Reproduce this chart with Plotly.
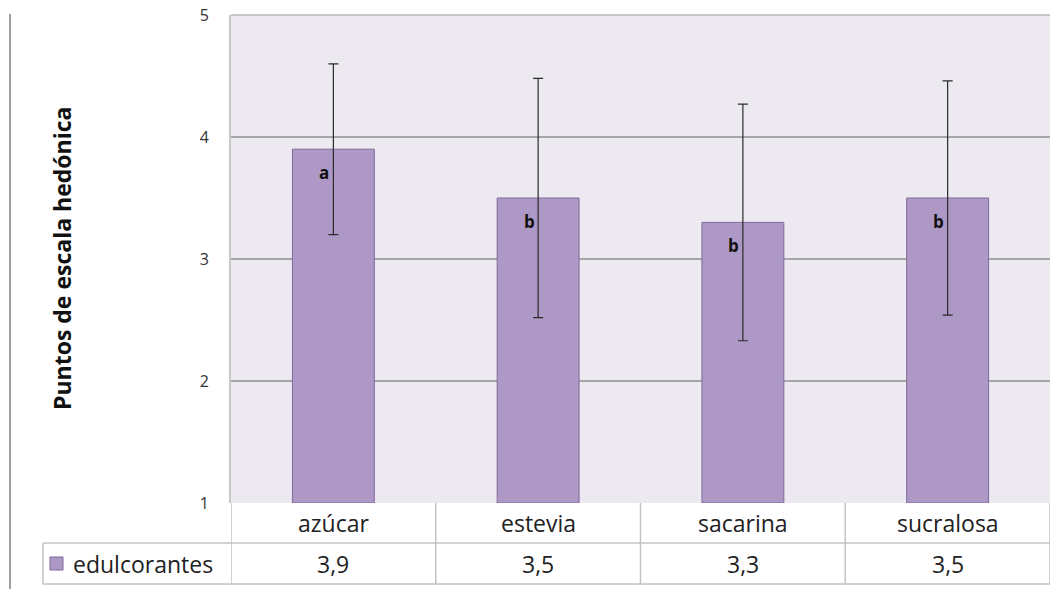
import plotly.graph_objects as go

categories = ["azúcar", "estevia", "sacarina", "sucralosa"]
means = [3.9, 3.5, 3.3, 3.5]
errors = [0.7, 0.98, 0.97, 0.96]
letters = ["a", "b", "b", "b"]
value_labels = ["3,9", "3,5", "3,3", "3,5"]
series_name = "edulcorantes"
y_title = "Puntos de escala hedónica"
y_ticks = [1, 2, 3, 4, 5]

BAR = "#AE98C6"
BAR_LINE = "#7F6A9C"
GRID = "#A6A6A6"
TABLE = "#C3C3C3"
FONT = "Open Sans"

W, H = 1062, 589
L, R, T, B = 231, 12, 15, 86
ph = H - T - B          # plot height px
pw = W - L - R          # plot width px

def py(p):   # pixel y -> paper y
    return (H - B - p) / ph

def px(p):   # pixel x -> paper x
    return (p - L) / pw

xs = list(range(len(categories)))

fig = go.Figure()
fig.add_trace(go.Bar(
    x=xs, y=[m - 1 for m in means], base=1,
    width=0.4,
    marker=dict(color=BAR, line=dict(color=BAR_LINE, width=1)),
    error_y=dict(type="data", array=errors, color="#2a2a2a", thickness=1.2, width=5),
    showlegend=False, hoverinfo="skip",
))

shapes = []
annotations = []

# letter annotations inside bars
for i, (m, lt) in enumerate(zip(means, letters)):
    annotations.append(dict(x=i, y=m, xref="x", yref="y", text=f"<b>{lt}</b>",
                            showarrow=False, xshift=-9, yshift=-23,
                            font=dict(family=FONT, size=17, color="#111111")))

# table: row 1 (categories) and row 2 (values)
row1_top, row1_bot, row2_bot = py(503), py(543), py(584)
for i, c in enumerate(categories):
    annotations.append(dict(x=i, y=(row1_top + row1_bot) / 2, xref="x", yref="paper",
                            text=c, showarrow=False, yanchor="middle",
                            font=dict(family=FONT, size=23, color="#222222")))
    annotations.append(dict(x=i, y=(row1_bot + row2_bot) / 2, xref="x", yref="paper",
                            text=value_labels[i], showarrow=False, yanchor="middle",
                            font=dict(family=FONT, size=23, color="#222222")))
# horizontal lines
shapes.append(dict(type="line", xref="paper", yref="paper", x0=px(43), x1=1, y0=row1_bot, y1=row1_bot,
                   line=dict(color=TABLE, width=1.5)))
shapes.append(dict(type="line", xref="paper", yref="paper", x0=px(43), x1=1, y0=row2_bot, y1=row2_bot,
                   line=dict(color=TABLE, width=1.5)))
# vertical lines
for k in range(len(categories) + 1):
    shapes.append(dict(type="line", xref="x", yref="paper", x0=k - 0.5, x1=k - 0.5,
                       y0=row1_top, y1=row2_bot, line=dict(color=TABLE, width=1.5)))
shapes.append(dict(type="line", xref="paper", yref="paper", x0=px(43), x1=px(43),
                   y0=row1_bot, y1=row2_bot, line=dict(color=TABLE, width=1.5)))
# legend key
shapes.append(dict(type="rect", xref="paper", yref="paper", x0=px(50), x1=px(63),
                   y0=py(570), y1=py(557), fillcolor=BAR, line=dict(color=BAR_LINE, width=1)))
annotations.append(dict(x=px(71), y=(row1_bot + row2_bot) / 2, xref="paper", yref="paper",
                        text=series_name, showarrow=False, xanchor="left", yanchor="middle",
                        font=dict(family=FONT, size=23, color="#222222")))
# outer left border line
shapes.append(dict(type="line", xref="paper", yref="paper", x0=px(10), x1=px(10),
                   y0=py(14), y1=py(589), line=dict(color="#A0A0A0", width=2)))
# top plot border
shapes.append(dict(type="line", xref="paper", yref="paper", x0=0, x1=1, y0=1, y1=1,
                   line=dict(color="#C8C8C8", width=2)))

# y title
annotations.append(dict(x=px(62), y=py(259), xref="paper", yref="paper", text=f"<b>{y_title}</b>",
                        textangle=-90, showarrow=False, xanchor="center", yanchor="middle",
                        font=dict(family=FONT, size=23, color="#111111")))

fig.update_layout(
    width=W, height=H,
    margin=dict(l=L, r=R, t=T, b=B, autoexpand=False),
    paper_bgcolor="white",
    plot_bgcolor="#ECE9F1",
    bargap=0.6,
    shapes=shapes,
    annotations=annotations,
    xaxis=dict(range=[-0.5, len(categories) - 0.5], showticklabels=False, showgrid=False,
               zeroline=False, fixedrange=True, automargin=False),
    yaxis=dict(range=[1, 5], tickvals=y_ticks, ticktext=[str(v) for v in y_ticks],
               showgrid=True, gridcolor=GRID, gridwidth=1.5, zeroline=False,
               showline=True, linecolor="#C8C8C8", linewidth=2, automargin=False,
               ticks="", ticklabelstandoff=17,
               tickfont=dict(family=FONT, size=16, color="#333333")),
)

post = (
    "document.body.style.margin='0';"
    "document.documentElement.style.overflow='hidden';"
    "document.body.style.overflow='hidden';"
    "var d=document.getElementById('{plot_id}');"
    "d.style.position='fixed';d.style.top='0px';d.style.left='0px';"
)

fig.write_html("out.html", config={"displayModeBar": False}, post_script=post)
